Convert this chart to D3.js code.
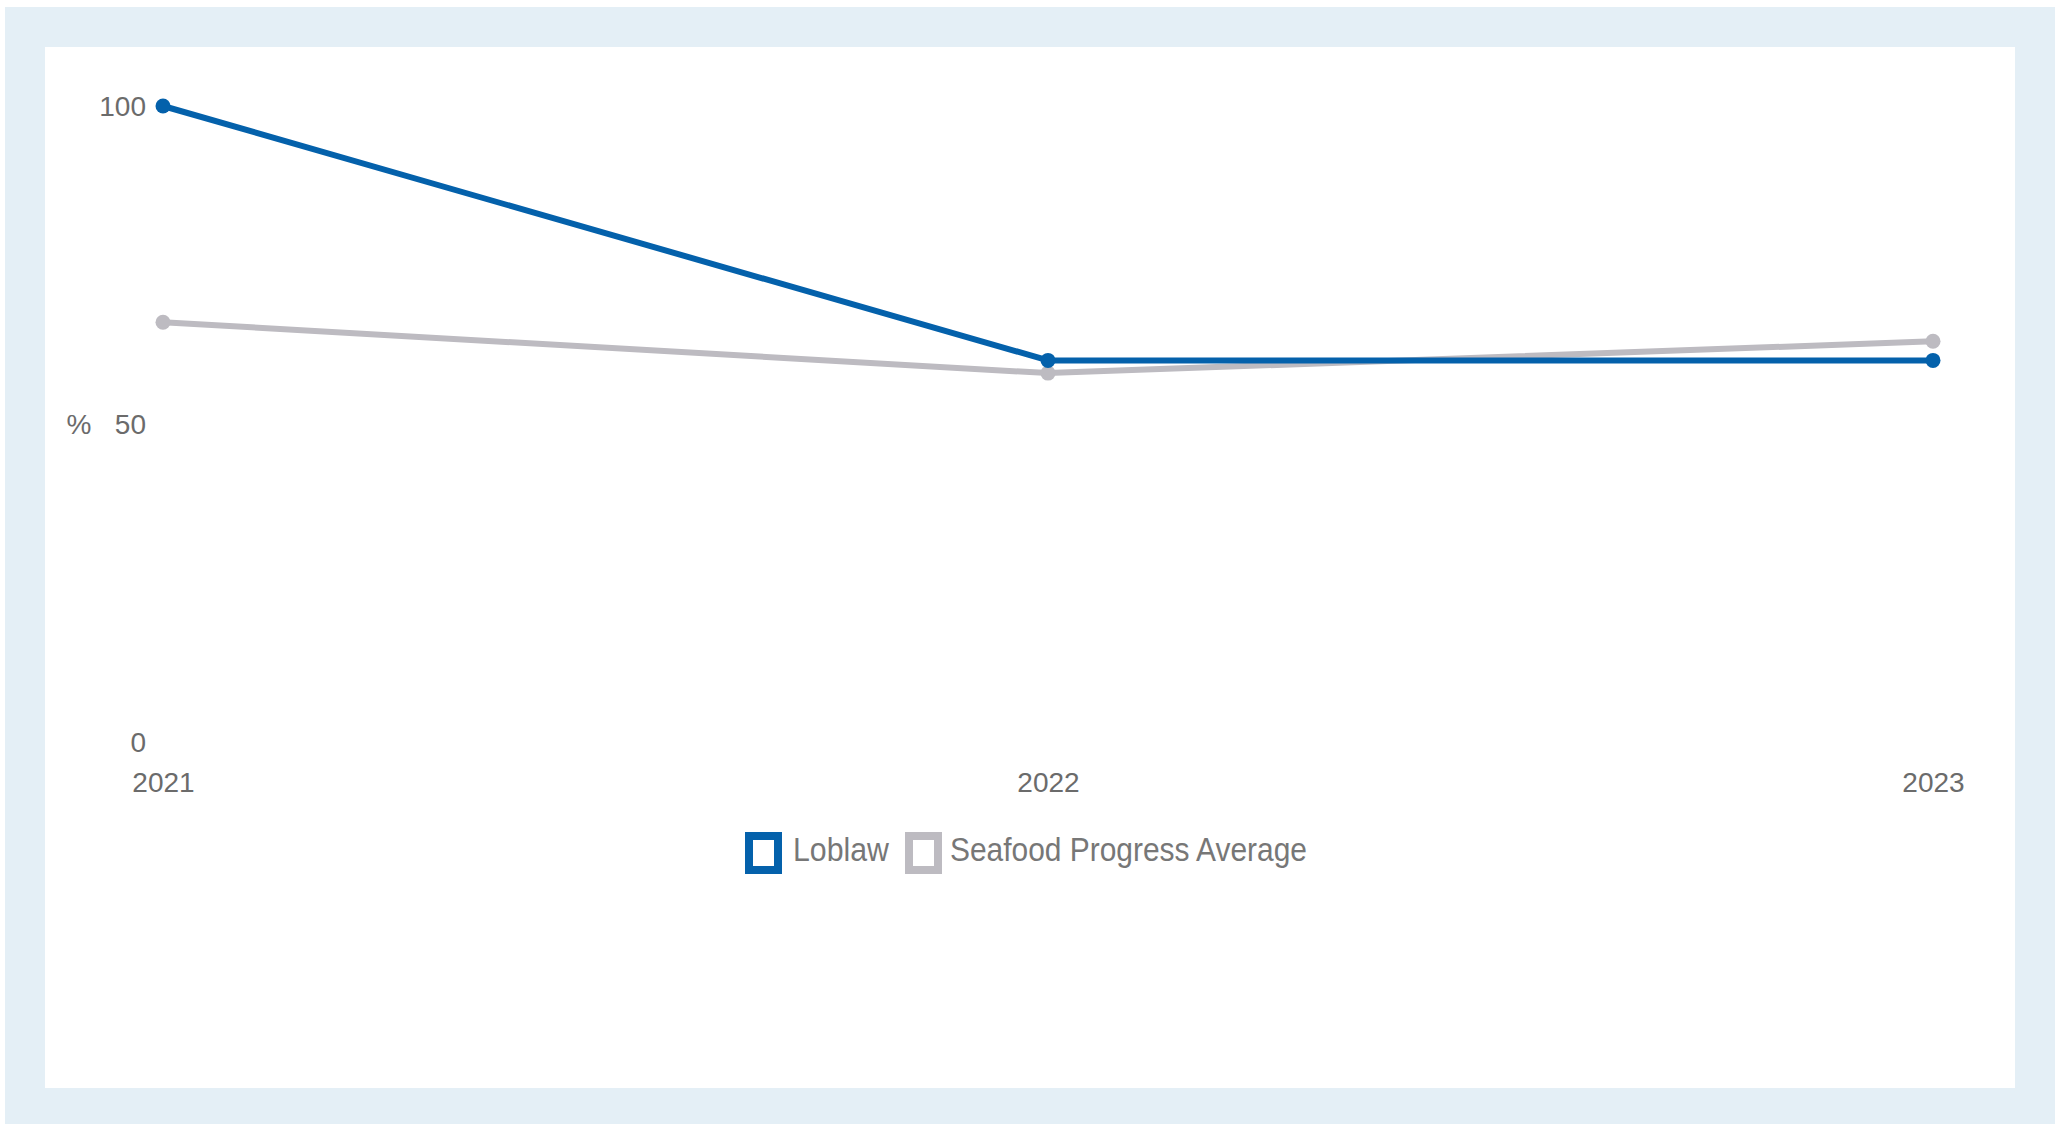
<!DOCTYPE html>
<html>
<head>
<meta charset="utf-8">
<script src="https://cdn.jsdelivr.net/npm/d3@7"></script>
<style>
  html, body { margin: 0; padding: 0; background: #ffffff; }
  svg { display: block; }
</style>
</head>
<body>
<svg id="chart" width="2067" height="1124"></svg>
<script>
const years = ["2021", "2022", "2023"];
const loblaw = [100, 60, 60];
const seafoodAvg = [66, 58, 63];
const yTicks = [0, 50, 100];
const yAxisLabel = "%";
const seriesNames = ["Loblaw", "Seafood Progress Average"];
const seriesColors = ["#0461ab", "#bdbbc1"];

const svg = d3.select("#chart");

// frame
svg.append("rect").attr("x", 5).attr("y", 7).attr("width", 2050).attr("height", 1117).attr("fill", "#e4eff6");
svg.append("rect").attr("x", 45).attr("y", 47).attr("width", 1970).attr("height", 1041).attr("fill", "#ffffff");

const x = d3.scalePoint().domain(years).range([163, 1933]);
const y = d3.scaleLinear().domain([0, 100]).range([742, 106]);

const fontTick = "'Liberation Sans', Arial, sans-serif";

// y axis
const yAxis = d3.axisLeft(y).tickValues(yTicks).tickSize(0).tickPadding(0);
const gy = svg.append("g").attr("transform", "translate(146,0)").call(yAxis);
gy.select(".domain").remove();
gy.selectAll("text").attr("font-family", fontTick).attr("font-size", 28).attr("fill", "#6b6b6b").attr("dy", "0.35em");

svg.append("text").attr("x", 79).attr("y", y(50)).attr("dy", "0.35em")
  .attr("text-anchor", "middle").attr("font-family", fontTick).attr("font-size", 28).attr("fill", "#6b6b6b")
  .text(yAxisLabel);

// x axis
const xAxis = d3.axisBottom(x).tickSize(0).tickPadding(0);
const gx = svg.append("g").attr("transform", "translate(0,772)").call(xAxis);
gx.select(".domain").remove();
gx.selectAll("text").attr("font-family", fontTick).attr("font-size", 28).attr("fill", "#6b6b6b").attr("dy", "0.71em");

// lines
const line = d3.line().x((d, i) => x(years[i])).y(d => y(d));
const series = [seafoodAvg, loblaw];
const cols = [seriesColors[1], seriesColors[0]];
series.forEach((s, k) => {
  svg.append("path").attr("d", line(s)).attr("fill", "none")
    .attr("stroke", cols[k]).attr("stroke-width", 6).attr("stroke-linejoin", "round");
  svg.selectAll(null).data(s).enter().append("circle")
    .attr("cx", (d, i) => x(years[i])).attr("cy", d => y(d)).attr("r", 7.5).attr("fill", cols[k]);
});

// legend
const legend = svg.append("g");
const items = [
  { name: seriesNames[0], color: seriesColors[0], bx: 749, tx: 793, tl: 96 },
  { name: seriesNames[1], color: seriesColors[1], bx: 909, tx: 950, tl: 357 }
];
items.forEach(it => {
  legend.append("rect").attr("x", it.bx).attr("y", 836).attr("width", 29).attr("height", 34)
    .attr("fill", "none").attr("stroke", it.color).attr("stroke-width", 8);
  legend.append("text").attr("x", it.tx).attr("y", 861)
    .attr("font-family", "'Liberation Sans Narrow', 'Liberation Sans', Arial, sans-serif")
    .attr("font-size", 34).attr("fill", "#777777")
    .attr("textLength", it.tl).attr("lengthAdjust", "spacingAndGlyphs")
    .text(it.name);
});
</script>
</body>
</html>
